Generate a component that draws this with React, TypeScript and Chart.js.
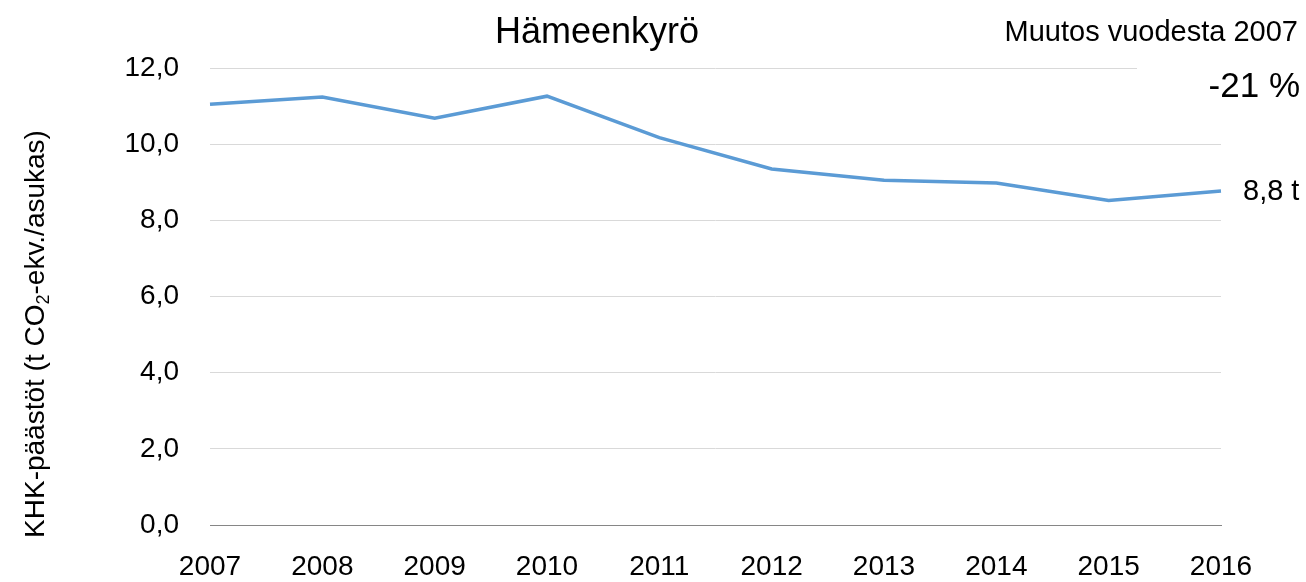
import React, { useEffect, useRef } from "react";
import { Chart, registerables } from "chart.js";

Chart.register(...registerables);

const years = ["2007", "2008", "2009", "2010", "2011", "2012", "2013", "2014", "2015", "2016"];
const emissions = [11.05, 11.24, 10.68, 11.26, 10.17, 9.35, 9.05, 8.98, 8.52, 8.77];
const yTicks = [0, 2, 4, 6, 8, 10, 12];
const titleText = "Hämeenkyrö";
const changeLabel = "Muutos vuodesta 2007";
const yTitleParts = ["KHK-päästöt (t CO", "2", "-ekv./asukas)"];

const FONT = '"Liberation Sans", Arial, sans-serif';
const fmt = (v: number) => v.toFixed(1).replace(".", ",");

const annotations = {
  id: "annotations",
  beforeDatasetsDraw(chart: any) {
    const ctx = chart.ctx;
    const y12 = chart.scales.y.getPixelForValue(12);
    ctx.save();
    ctx.fillStyle = "#ffffff";
    ctx.fillRect(1137, y12 - 6, 200, 12);
    ctx.restore();
  },
  afterDraw(chart: any) {
    const ctx = chart.ctx;
    ctx.save();
    ctx.fillStyle = "#000000";
    ctx.textBaseline = "alphabetic";

    // Title
    ctx.font = `36px ${FONT}`;
    ctx.textAlign = "center";
    ctx.fillText(titleText, 597, 43);

    // Change annotation
    ctx.font = `29px ${FONT}`;
    ctx.textAlign = "right";
    ctx.fillText(changeLabel, 1298, 41);
    const first = emissions[0];
    const last = emissions[emissions.length - 1];
    const pct = Math.round((last / first - 1) * 100);
    ctx.font = `35px ${FONT}`;
    ctx.fillText(`${pct} %`, 1300, 97);

    // Last value label
    const meta = chart.getDatasetMeta(0);
    const lastPt = meta.data[meta.data.length - 1];
    ctx.font = `29px ${FONT}`;
    ctx.textAlign = "left";
    ctx.textBaseline = "middle";
    ctx.fillText(`${fmt(last)} t`, lastPt.x + 22, lastPt.y + 1);

    // Y-axis title with subscript
    const size = 28;
    ctx.translate(34, 334);
    ctx.rotate(-Math.PI / 2);
    ctx.font = `${size}px ${FONT}`;
    const w0 = ctx.measureText(yTitleParts[0]).width;
    ctx.font = `${Math.round(size * 0.65)}px ${FONT}`;
    const w1 = ctx.measureText(yTitleParts[1]).width;
    ctx.font = `${size}px ${FONT}`;
    const w2 = ctx.measureText(yTitleParts[2]).width;
    const total = w0 + w1 + w2;
    let x = -total / 2;
    ctx.textAlign = "left";
    ctx.textBaseline = "alphabetic";
    const base = 10;
    ctx.fillText(yTitleParts[0], x, base);
    x += w0;
    ctx.font = `${Math.round(size * 0.65)}px ${FONT}`;
    ctx.fillText(yTitleParts[1], x, base + 5);
    x += w1;
    ctx.font = `${size}px ${FONT}`;
    ctx.fillText(yTitleParts[2], x, base);
    ctx.restore();
  },
};

export default function App() {
  const ref = useRef<HTMLCanvasElement | null>(null);
  useEffect(() => {
    if (!ref.current) return;
    const chart = new Chart(ref.current, {
      type: "line",
      data: {
        labels: years,
        datasets: [
          {
            data: emissions,
            borderColor: "#5B9BD5",
            borderWidth: 3.5,
            pointRadius: 0,
            tension: 0,
            fill: false,
          },
        ],
      },
      options: {
        animation: false,
        responsive: false,
        maintainAspectRatio: false,
        layout: { padding: { top: 68, right: 85, bottom: 0, left: 0 } },
        plugins: { legend: { display: false }, tooltip: { enabled: false }, title: { display: false } },
        scales: {
          x: {
            type: "category",
            offset: false,
            grid: { display: false, drawTicks: false },
            border: { display: true, color: "#868686", width: 1 },
            ticks: {
              color: "#000000",
              font: { family: FONT, size: 28 },
              padding: 25,
              maxRotation: 0,
              autoSkip: false,
            },
            afterFit: (scale: any) => {
              scale.height = 57;
            },
          },
          y: {
            min: 0,
            max: 12,
            afterBuildTicks: (scale: any) => {
              scale.ticks = yTicks.map((v) => ({ value: v }));
            },
            grid: { color: "#d9d9d9", lineWidth: 1, drawTicks: false },
            border: { display: false },
            ticks: {
              color: "#000000",
              font: { family: FONT, size: 28 },
              padding: 31,
              callback: (v: any) => fmt(Number(v)),
            },
            afterFit: (scale: any) => {
              scale.width = 210;
            },
          },
        },
      },
      plugins: [annotations],
    });
    return () => chart.destroy();
  }, []);
  return (
    <div style={{ position: "fixed", left: 0, top: 0, width: 1306, height: 582, background: "#fff" }}>
      <canvas ref={ref} width={1306} height={582} style={{ display: "block" }} />
    </div>
  );
}
